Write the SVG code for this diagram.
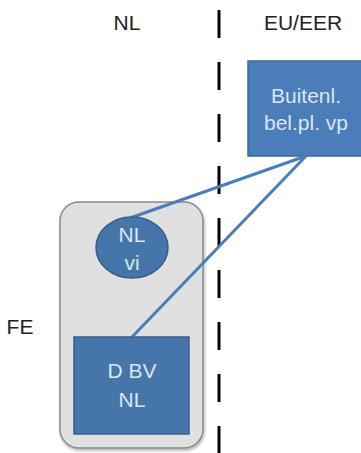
<svg xmlns="http://www.w3.org/2000/svg" width="361" height="453" viewBox="0 0 361 453">
<defs>
<style>
.lbl{font-family:"Liberation Sans",Arial,sans-serif;font-size:21px;fill:#222;text-anchor:middle}
.in{font-family:"Liberation Sans",Arial,sans-serif;font-size:21px;fill:#dce6f2;text-anchor:middle}
.blue{fill:#4a7dba;stroke:#3a679c;stroke-width:1.5}
.blue2{fill:#4675aa;stroke:#34608f;stroke-width:1.5}
.conn{stroke:#4a7ebb;stroke-width:3;fill:none}
</style>
<filter id="sh" x="-10%" y="-10%" width="130%" height="130%">
<feDropShadow dx="1" dy="2" stdDeviation="1.5" flood-color="#000" flood-opacity="0.3"/>
</filter>
</defs>
<rect width="361" height="453" fill="#fff"/>
<g id="labels">
<text class="lbl" x="127" y="30">NL</text>
<text class="lbl" x="303" y="30">EU/EER</text>
<text class="lbl" x="20" y="334">FE</text>
</g>
<g id="divider">
<line x1="219" y1="10" x2="219" y2="453" stroke="#000" stroke-width="3" stroke-dasharray="28 24"/>
</g>
<g id="fe">
<rect x="60" y="202" width="143" height="246" rx="19" fill="#e0e0e0" stroke="#8a8a8a" stroke-width="1.5" filter="url(#sh)"/>
</g>
<g id="buitenl">
<rect class="blue" x="248" y="61" width="120" height="95"/>
<text class="in" x="306" y="103">Buitenl.</text>
<text class="in" x="306" y="130">bel.pl. vp</text>
</g>
<g id="connectors">
<line class="conn" x1="306" y1="156" x2="130" y2="218"/>
<line class="conn" x1="306" y1="156" x2="132" y2="337"/>
</g>
<g id="nlvi">
<ellipse class="blue2" cx="132" cy="247.5" rx="36" ry="30.5"/>
<text class="in" x="132" y="242">NL</text>
<text class="in" x="132" y="270">vi</text>
</g>
<g id="dbv">
<rect class="blue2" x="74" y="337" width="115" height="97"/>
<text class="in" x="132" y="378">D BV</text>
<text class="in" x="132" y="407">NL</text>
</g>
</svg>
